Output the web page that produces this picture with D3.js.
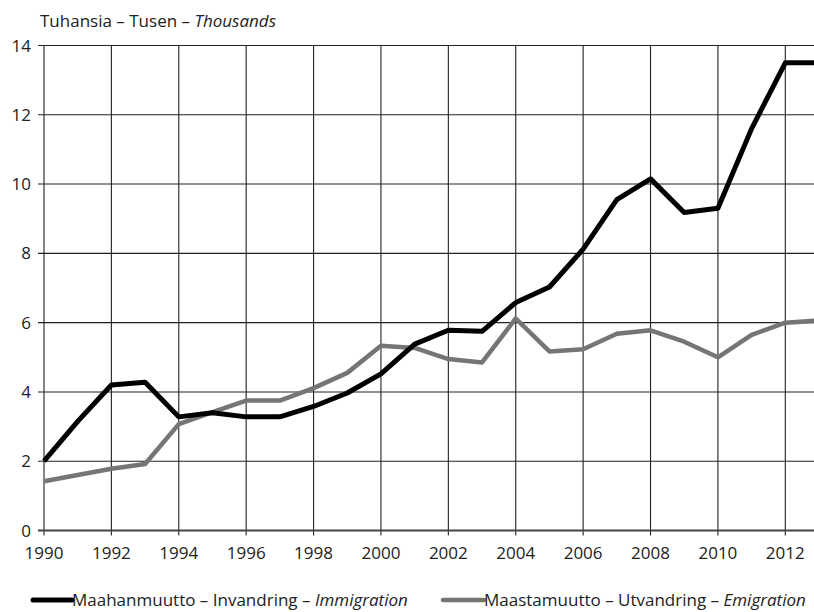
<!DOCTYPE html>
<html>
<head>
<meta charset="utf-8">
<script src="https://cdn.jsdelivr.net/npm/d3@7"></script>
<style>
  html, body { margin: 0; padding: 0; background: #fff; }
  svg { display: block; font-family: "Open Sans", sans-serif; }
</style>
</head>
<body>
<svg id="chart" width="814" height="612"></svg>
<script>
const years = [1990,1991,1992,1993,1994,1995,1996,1997,1998,1999,2000,2001,2002,2003,2004,2005,2006,2007,2008,2009,2010,2011,2012,2013];
const immigration = [2.0,3.15,4.2,4.28,3.28,3.4,3.28,3.28,3.58,3.97,4.52,5.38,5.78,5.75,6.58,7.03,8.12,9.55,10.15,9.18,9.3,11.6,13.5,13.5];
const emigration = [1.42,1.6,1.78,1.92,3.07,3.42,3.75,3.75,4.11,4.55,5.33,5.27,4.95,4.85,6.12,5.17,5.23,5.68,5.78,5.45,5.0,5.65,6.0,6.06];
const xTicks = [1990,1992,1994,1996,1998,2000,2002,2004,2006,2008,2010,2012];
const yTicks = [0,2,4,6,8,10,12,14];
const seriesNames = ["Maahanmuutto – Invandring – ", "Maastamuutto – Utvandring – "];
const seriesItalic = ["Immigration", "Emigration"];
const titleParts = ["Tuhansia – Tusen – ", "Thousands"];

const svg = d3.select("#chart");
const x = d3.scaleLinear().domain([1990, 2013]).range([44, 819]);
const y = d3.scaleLinear().domain([0, 14]).range([530.5, 45.5]);

// Title
const t = svg.append("text").attr("x", 40).attr("y", 27).attr("font-size", 17).attr("fill", "#222");
t.append("tspan").text(titleParts[0]);
t.append("tspan").attr("font-style", "italic").text(titleParts[1]);

// Horizontal grid
svg.append("g").selectAll("line").data(yTicks.filter(d => d > 0)).join("line")
  .attr("x1", 38).attr("x2", 814)
  .attr("y1", d => y(d)).attr("y2", d => y(d))
  .attr("stroke", "#222").attr("stroke-width", 1.1);

// Vertical grid
svg.append("g").selectAll("line").data(xTicks).join("line")
  .attr("x1", d => x(d)).attr("x2", d => x(d))
  .attr("y1", y(14)).attr("y2", y(0) + 5)
  .attr("stroke", "#222").attr("stroke-width", 1.1);

// Zero axis
svg.append("line").attr("x1", 38).attr("x2", 814).attr("y1", y(0)).attr("y2", y(0))
  .attr("stroke", "#444").attr("stroke-width", 2);

// Y axis labels
svg.append("g").selectAll("text").data(yTicks).join("text")
  .attr("x", 31).attr("y", d => y(d)).attr("dy", "0.36em")
  .attr("text-anchor", "end").attr("font-size", 17).attr("fill", "#222")
  .text(d => d);

// X axis labels
svg.append("g").selectAll("text").data(xTicks).join("text")
  .attr("x", d => x(d)).attr("y", 559)
  .attr("text-anchor", "middle").attr("font-size", 17).attr("fill", "#222")
  .text(d => d);

const line = d3.line().x(d => x(d[0])).y(d => y(d[1]));

svg.append("path").datum(years.map((yr, i) => [yr, emigration[i]]))
  .attr("d", line).attr("fill", "none").attr("stroke", "#757575")
  .attr("stroke-width", 4.5).attr("stroke-linejoin", "round");

svg.append("path").datum(years.map((yr, i) => [yr, immigration[i]]))
  .attr("d", line).attr("fill", "none").attr("stroke", "#000")
  .attr("stroke-width", 5).attr("stroke-linejoin", "round");

// Legend
const legend = [
  {sx1: 33, sx2: 72, color: "#000", w: 5, tx: 72},
  {sx1: 443, sx2: 484, color: "#757575", w: 4.5, tx: 484}
];
legend.forEach((L, i) => {
  svg.append("line").attr("x1", L.sx1).attr("x2", L.sx2).attr("y1", 600).attr("y2", 600)
    .attr("stroke", L.color).attr("stroke-width", L.w).attr("stroke-linecap", "round");
  const lt = svg.append("text").attr("x", L.tx).attr("y", 606).attr("font-size", 17).attr("fill", "#222");
  lt.append("tspan").text(seriesNames[i]);
  lt.append("tspan").attr("font-style", "italic").text(seriesItalic[i]);
});
</script>
</body>
</html>
